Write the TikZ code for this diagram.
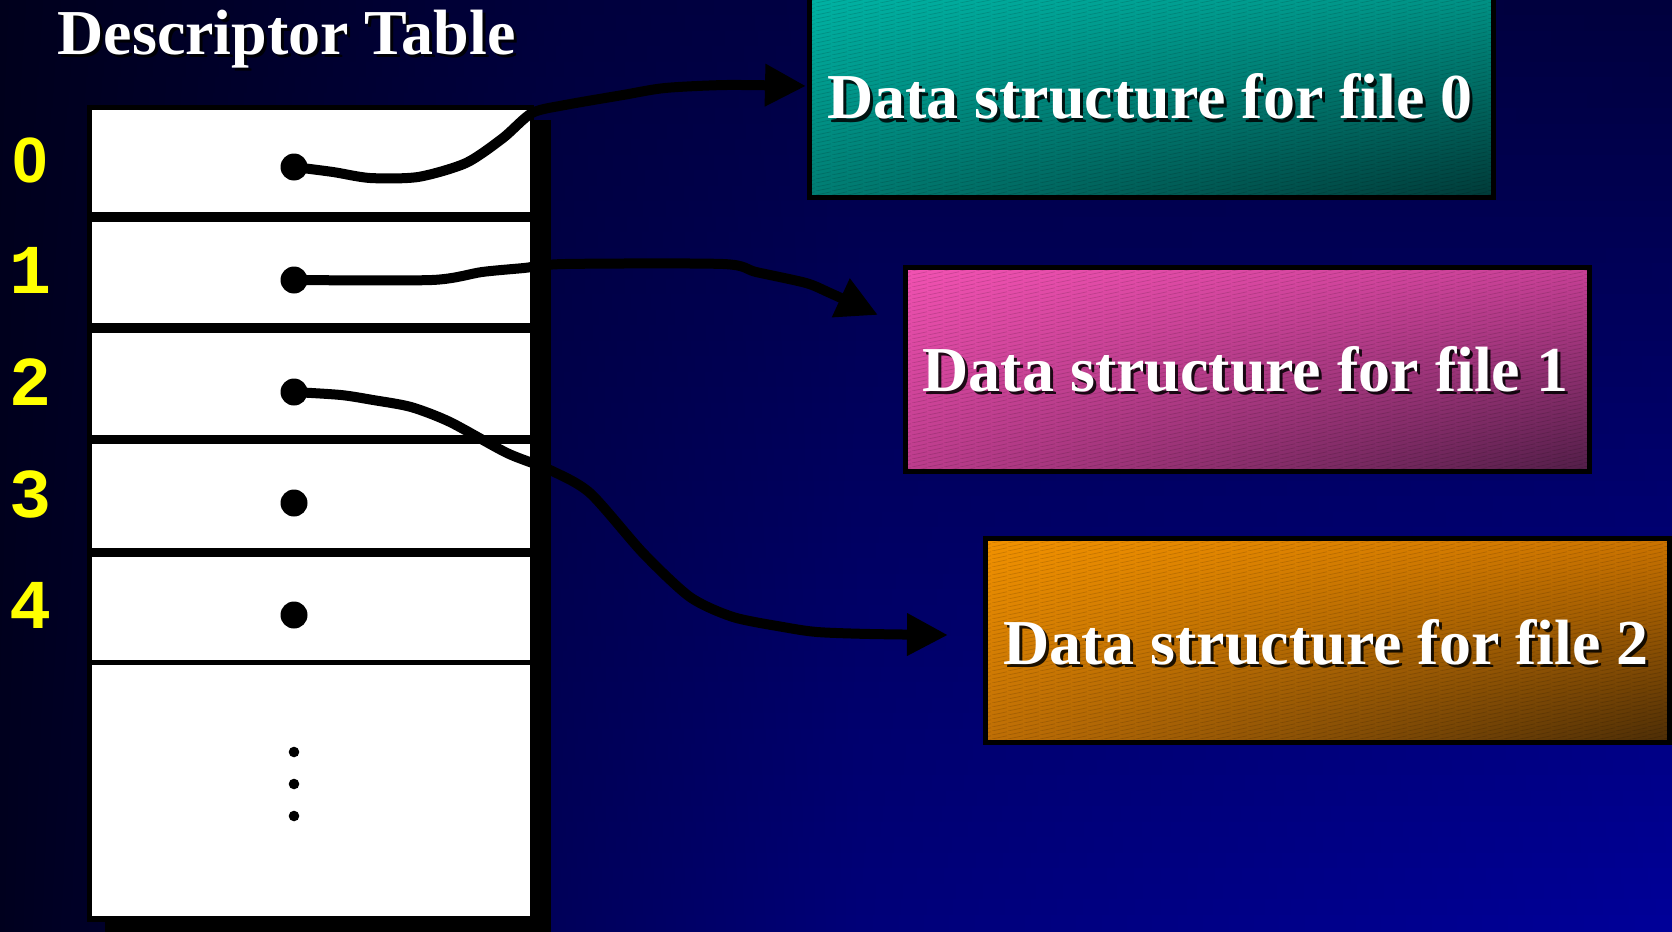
\documentclass[tikz,border=0pt]{standalone}
\usepackage{fontspec}
\setmainfont{Liberation Serif}
\newfontfamily\digitfont{Liberation Mono}
\newfontfamily\zerofont{Liberation Sans}
\usetikzlibrary{arrows.meta,patterns.meta}

\pgfdeclarepattern{
  name=hatch, type=uncolored,
  bottom left={\pgfpoint{0pt}{0pt}},
  top right={\pgfpoint{16pt}{4pt}},
  tile size={\pgfpoint{16pt}{4pt}},
  code={\pgfsetlinewidth{0.9pt}%
    \pgfpathmoveto{\pgfpoint{0pt}{0pt}}\pgfpathlineto{\pgfpoint{16pt}{4pt}}%
    \pgfusepath{stroke}}
}

% background: top/bottom colours at x = 0, 560, 860, 1672
\definecolor{bgTA}{RGB}{0,0,28}
\definecolor{bgBA}{RGB}{0,0,30}
\definecolor{bgTB}{RGB}{0,0,60}
\definecolor{bgBB}{RGB}{0,0,90}
\definecolor{bgTC}{RGB}{0,0,68}
\definecolor{bgBC}{RGB}{0,0,120}
\definecolor{bgTD}{RGB}{0,0,60}
\definecolor{bgBD}{RGB}{0,0,152}
\colorlet{bgcA}{bgTA}\colorlet{bgcB}{bgTB}\colorlet{bgcC}{bgTC}\colorlet{bgcD}{bgTD}
\pgfdeclarehorizontalshading[bgcA,bgcB,bgcC,bgcD]{bgrow}{100bp}{%
  color(0bp)=(bgcA); color(25bp)=(bgcA); color(41.75bp)=(bgcB);
  color(50.72bp)=(bgcC); color(75bp)=(bgcD); color(100bp)=(bgcD)}

\definecolor{tUL}{RGB}{0,180,165}
\definecolor{tUR}{RGB}{0,148,135}
\definecolor{tLL}{RGB}{0,124,114}
\definecolor{tLR}{RGB}{0,58,56}
\definecolor{pUL}{RGB}{242,82,178}
\definecolor{pUR}{RGB}{200,64,150}
\definecolor{pLL}{RGB}{188,60,140}
\definecolor{pLR}{RGB}{82,30,72}
\definecolor{oUL}{RGB}{242,146,0}
\definecolor{oUR}{RGB}{205,116,0}
\definecolor{oLL}{RGB}{190,110,5}
\definecolor{oLR}{RGB}{76,45,6}
\definecolor{lblyellow}{RGB}{255,255,0}

% four-corner fill made of horizontal strips: x1 y1(top) x2 y2(bottom) UL UR LL LR
\newcommand\cornerfill[8]{%
  \foreach \i in {0,...,49}{%
    \pgfmathsetmacro\ya{#2+(#4-#2)/50*\i}%
    \pgfmathsetmacro\yb{#2+(#4-#2)/50*(\i+1)+0.8}%
    \pgfmathtruncatemacro\pc{100-(\i+0.5)*2}%
    \shade[left color=#5!\pc!#7, right color=#6!\pc!#8] (#1,\ya) rectangle (#3,\yb);
  }}
% background fill
\newcommand\bgfill{%
  \foreach \i in {0,...,59}{%
    \pgfmathsetmacro\ya{931/60*\i}%
    \pgfmathsetmacro\yb{931/60*(\i+1)+0.8}%
    \pgfmathtruncatemacro\pc{100-(\i+0.5)*100/60}%
    \colorlet{bgcA}{bgTA!\pc!bgBA}\colorlet{bgcB}{bgTB!\pc!bgBB}%
    \colorlet{bgcC}{bgTC!\pc!bgBC}\colorlet{bgcD}{bgTD!\pc!bgBD}%
    \shade[shading=bgrow] (0,\ya) rectangle (1672,\yb);
  }}

\tikzset{
  cell/.style={fill=white, inner sep=0pt, outer sep=0pt, minimum width=438pt},
  ptr/.style={circle, fill=black, inner sep=0pt, minimum size=27pt},
  small dot/.style={circle, fill=black, inner sep=0pt, minimum size=10.6pt},
  idx/.style={anchor=base, text=lblyellow, font=\digitfont\bfseries\fontsize{70}{72}\selectfont},
  idxzero/.style={anchor=base, text=lblyellow, font=\zerofont\bfseries\fontsize{64}{70}\selectfont},
  bigtxt/.style={anchor=base, inner sep=0pt, font=\bfseries\fontsize{64}{70}\selectfont},
  shadowtxt/.style={bigtxt, text=black, text opacity=0.85},
  fbox/.style={draw=black, line width=5pt, inner sep=0pt, outer sep=0pt,
    minimum width=684pt, minimum height=204pt},
  hatchfill/.style={pattern=hatch, pattern color=black, fill opacity=0.14},
  link/.style={line width=10pt, line cap=round, line join=round,
    -{Triangle[length=41pt,width=40pt]}},
}

\begin{document}
\begin{tikzpicture}[x=1pt,y=-1pt]
\useasboundingbox (0,0) rectangle (1672,931);
% background
\bgfill

% title
\node[shadowtxt] at (289.5,58) {Descriptor Table};
\node[bigtxt, text=white] (title) at (286.5,55) {Descriptor Table};

% table: shadow and border
\fill[black] (105,120) rectangle (551,945);
\fill[black] (87,105) rectangle (534,922);
\node[cell, minimum height=102pt] (c0) at (311,161) {};
\node[cell, minimum height=101pt] (c1) at (311,272.5) {};
\node[cell, minimum height=102pt] (c2) at (311,384) {};
\node[cell, minimum height=104pt] (c3) at (311,496) {};
\node[cell, minimum height=103pt] (c4) at (311,608.5) {};
\node[cell, minimum height=251pt] (c5) at (311,790.5) {};

% index labels
\node[idxzero] (l0) at (30.5,182) {0};
\node[idx] (l1) at (30.5,293) {1};
\node[idx] (l2) at (30.5,405) {2};
\node[idx] (l3) at (30.5,517) {3};
\node[idx] (l4) at (30.5,628) {4};

% pointer dots
\node[ptr] (d0) at (294,167) {};
\node[ptr] (d1) at (294,280) {};
\node[ptr] (d2) at (294,392) {};
\node[ptr] (d3) at (294,503) {};
\node[ptr] (d4) at (294,615) {};
\node[small dot] (e1) at (294,752) {};
\node[small dot] (e2) at (294,784) {};
\node[small dot] (e3) at (294,816) {};

% data structure boxes
\cornerfill{809}{-6.5}{1493}{197.5}{tUL}{tUR}{tLL}{tLR}
\cornerfill{905.5}{267}{1589.5}{471}{pUL}{pUR}{pLL}{pLR}
\cornerfill{985.5}{538.5}{1669.5}{742.5}{oUL}{oUR}{oLL}{oLR}
\node[fbox] (f0) at (1151,95.5) {};
\node[fbox] (f1) at (1247.5,369) {};
\node[fbox] (f2) at (1327.5,640.5) {};
\foreach \b in {f0,f1,f2}{
  \fill[hatchfill] (\b.south west) rectangle (\b.north east);
}

\node[shadowtxt] at (1153,122) {Data structure for file 0};
\node[bigtxt, text=white] (t0) at (1150,119) {Data structure for file 0};
\node[shadowtxt] at (1248.5,394.5) {Data structure for file 1};
\node[bigtxt, text=white] (t1) at (1245.5,391.5) {Data structure for file 1};
\node[shadowtxt] at (1329,667) {Data structure for file 2};
\node[bigtxt, text=white] (t2) at (1326,664) {Data structure for file 2};

% arrow end points
\coordinate (a0) at (806,86);
\coordinate (a1) at (878,315);
\coordinate (a2) at (948,635);

% arrows
\draw[link] plot[smooth, tension=0.45] coordinates {(d0.center) (333,172) (370,178) (418,177) (466,163) (503,138) (532,113) (565,105) (623,95) (665,88) (727,85) (a0)};
\draw[link] plot[smooth, tension=0.45] coordinates {(d1.center) (432,280) (482,272) (524,268) (565,264) (723,264) (756,272) (806,283) (830,293) (a1)};
\draw[link] plot[smooth, tension=0.45] coordinates {(d2.center) (341,395) (373,400) (411,407) (450,422) (507,453) (550,470) (590,493) (643,553) (690,597) (733,617) (783,627) (817,632) (870,634) (a2)};
\end{tikzpicture}
\end{document}
